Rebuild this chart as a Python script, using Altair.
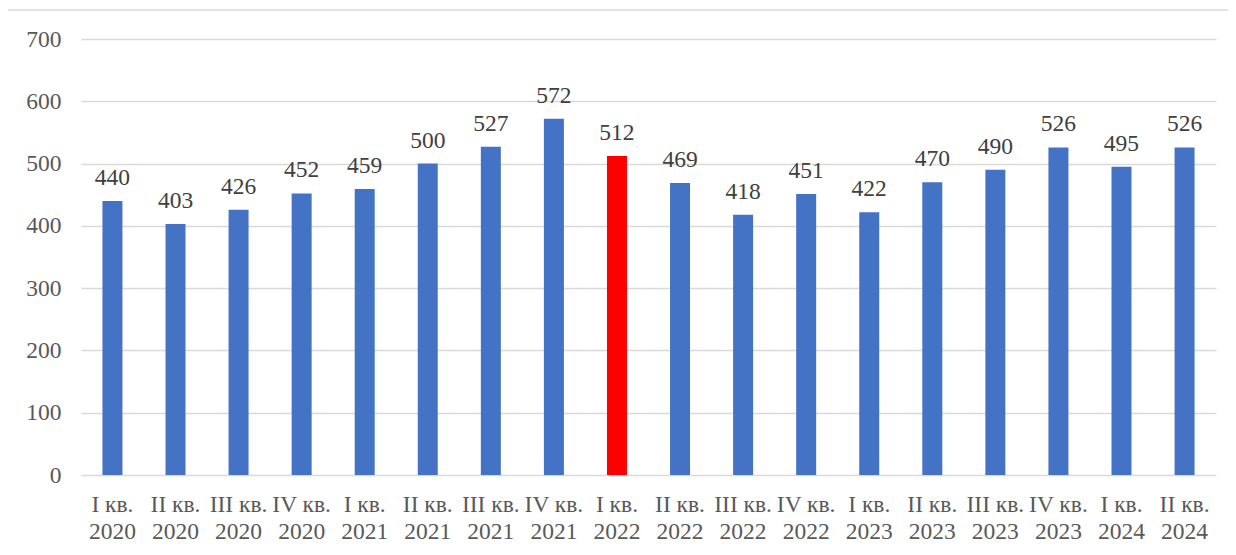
import altair as alt
import pandas as pd

quarters = ["I кв.", "II кв.", "III кв.", "IV кв.", "I кв.", "II кв.", "III кв.", "IV кв.",
            "I кв.", "II кв.", "III кв.", "IV кв.", "I кв.", "II кв.", "III кв.", "IV кв.",
            "I кв.", "II кв."]
years = ["2020", "2020", "2020", "2020", "2021", "2021", "2021", "2021",
         "2022", "2022", "2022", "2022", "2023", "2023", "2023", "2023",
         "2024", "2024"]
values = [440, 403, 426, 452, 459, 500, 527, 572, 512, 469, 418, 451, 422, 470, 490, 526, 495, 526]
highlight = [False] * 8 + [True] + [False] * 9

cats = [f"{q}\n{y}" for q, y in zip(quarters, years)]
df = pd.DataFrame({"cat": cats, "value": values, "hl": highlight,
                   "lab": [str(v) for v in values]})

FONT = "Times New Roman, Liberation Serif, serif"
W, H = 1135, 436

x = alt.X("cat:N", sort=cats, title=None,
          scale=alt.Scale(paddingInner=0.683, paddingOuter=0.34),
          axis=alt.Axis(labelExpr="split(datum.label, '\\n')", labelAngle=0,
                        labelFont=FONT, labelFontSize=23.5, labelColor="#595959",
                        labelLineHeight=27, labelPadding=17, labelBaseline="top",
                        ticks=False, domain=False, grid=False))

bars = alt.Chart(df).mark_bar().encode(
    x=x,
    y=alt.Y("value:Q", title=None,
            scale=alt.Scale(domain=[0, 700], nice=False),
            axis=alt.Axis(values=list(range(0, 701, 100)), labelFont=FONT,
                          labelFontSize=23.5, labelColor="#595959", labelPadding=20,
                          ticks=False, domain=False, gridColor="#D9D9D9",
                          gridWidth=1.3)),
    color=alt.Color("hl:N", scale=alt.Scale(domain=[False, True],
                                            range=["#4472C4", "#FF0000"]),
                    legend=None),
)

labels = alt.Chart(df).mark_text(font=FONT, fontSize=23.5, color="#404040",
                                 baseline="alphabetic", dy=-16).encode(
    x=alt.X("cat:N", sort=cats),
    y="value:Q",
    text="lab:N",
)

border = alt.Chart(pd.DataFrame({"a": [0]})).mark_rect(
    fill=None, stroke="#D9D9D9", strokeWidth=1.3, clip=False
).encode(
    x=alt.value(-74), x2=alt.value(W + 40),
    y=alt.value(-29), y2=alt.value(H + 120),
)

chart = alt.layer(border, bars, labels).properties(
    width=W, height=H,
    padding={"left": 73, "top": 31, "right": 12, "bottom": 70},
    autosize=alt.AutoSizeParams(type="none"),
).configure_view(stroke=None).configure_text(font=FONT)

chart.save("out.html", embed_options={"renderer": "svg", "actions": False})
